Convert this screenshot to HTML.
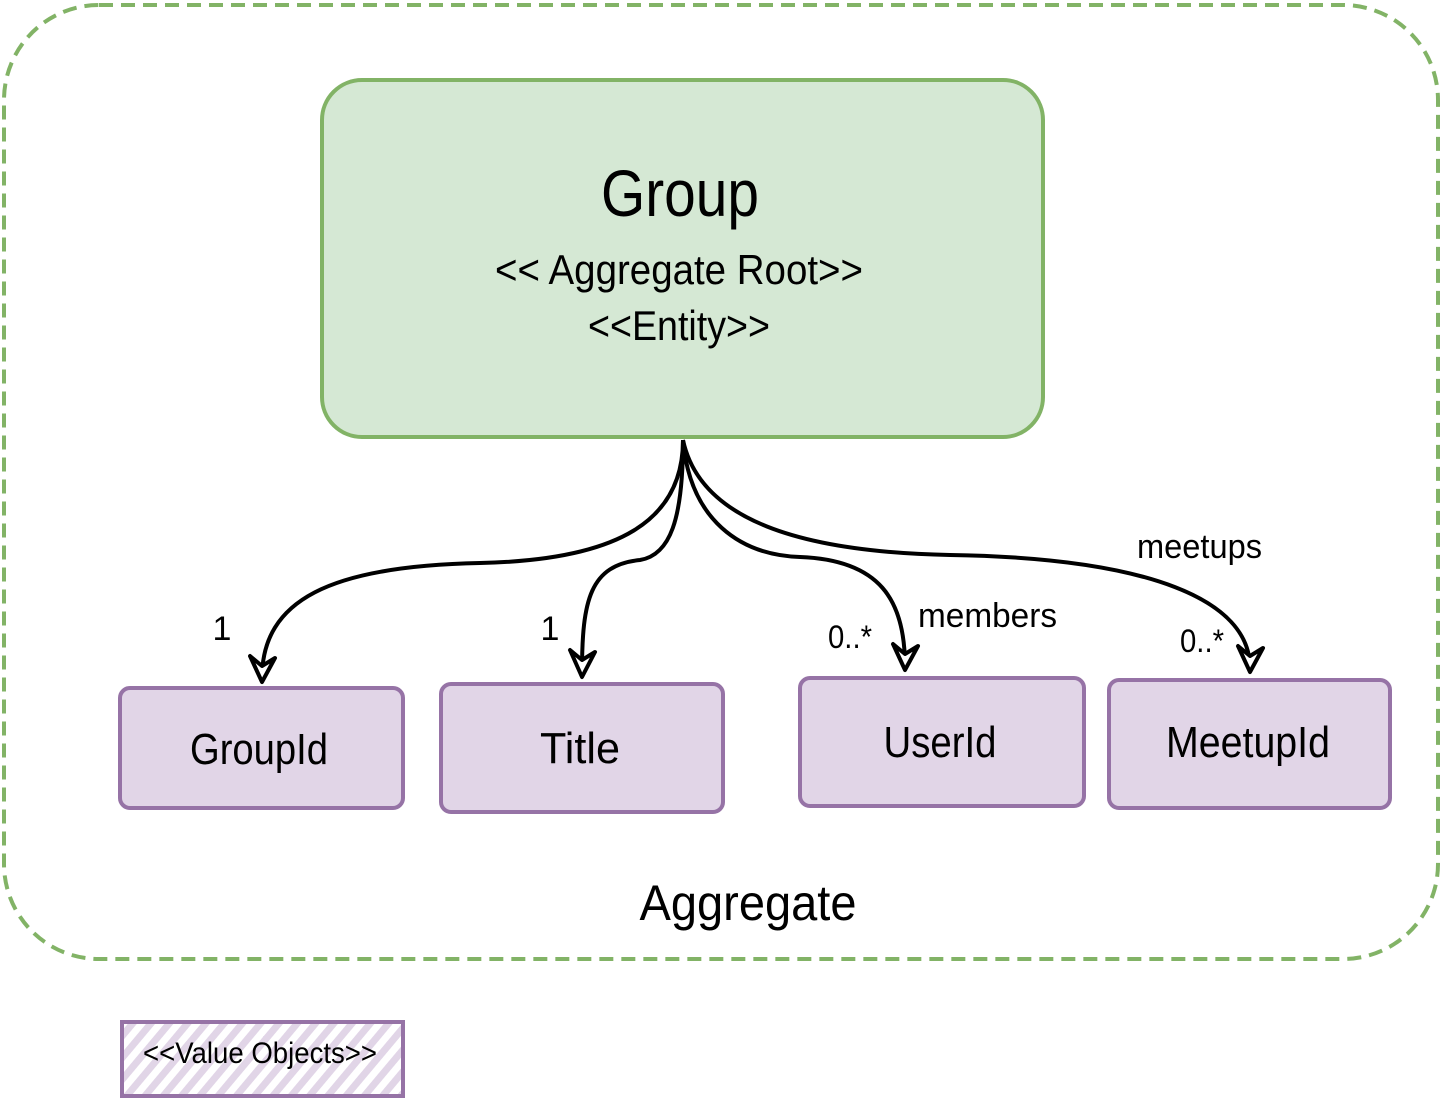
<!DOCTYPE html>
<html><head><meta charset="utf-8"><style>
html,body{margin:0;padding:0;background:#fff;}
svg{display:block;}
text{font-family:"Liberation Sans",sans-serif;fill:#000;}
</style></head><body>
<svg width="1444" height="1100" viewBox="0 0 1444 1100" xmlns="http://www.w3.org/2000/svg">
<defs>
<pattern id="hatch" width="14" height="14" patternUnits="userSpaceOnUse" patternTransform="rotate(40)">
<rect width="14" height="14" fill="#fff"/>
<rect width="7" height="14" fill="#e1d5e7"/>
</pattern>
<marker id="ah" markerWidth="16" markerHeight="16" refX="8" refY="14" orient="auto-start-reverse" markerUnits="userSpaceOnUse" viewBox="0 0 16 16">
</marker>
</defs>
<rect x="4" y="5" width="1434" height="954" rx="95" fill="none" stroke="#82b366" stroke-width="4" stroke-dasharray="14 8"/>
<rect x="322" y="80" width="721" height="357" rx="40" fill="#d5e8d4" stroke="#82b366" stroke-width="4"/>
<text x="680" y="216" font-size="66" text-anchor="middle" textLength="158" lengthAdjust="spacingAndGlyphs">Group</text>
<text x="679" y="284" font-size="42" text-anchor="middle" textLength="368" lengthAdjust="spacingAndGlyphs">&lt;&lt; Aggregate Root&gt;&gt;</text>
<text x="679" y="340" font-size="42" text-anchor="middle" textLength="182" lengthAdjust="spacingAndGlyphs">&lt;&lt;Entity&gt;&gt;</text>

<g fill="none" stroke="#000" stroke-width="4">
<path d="M683 440 C683 520 620 560 480 563 C330 566 262 600 262 678"/>
<path d="M683 440 C683 520 670 555 640 560 C590 565 582 600 582 672"/>
<path d="M683 440 C690 520 740 555 800 557 C880 560 905 600 905 666"/>
<path d="M683 440 C700 520 800 552 950 555 C1150 558 1250 600 1250 668"/>
</g>
<g fill="#fff" stroke="#000" stroke-width="4" stroke-linejoin="round">
<path d="M250 656 L262 682 L275 658 L262 666 Z"/>
<path d="M570 650 L582 677 L595 652 L582 660 Z"/>
<path d="M893 644 L905 670 L918 646 L905 654 Z"/>
<path d="M1238 646 L1250 672 L1263 648 L1250 656 Z"/>
</g>

<rect x="120" y="688" width="283" height="120" rx="10" fill="#e1d5e7" stroke="#9673a6" stroke-width="4"/>
<rect x="441" y="684" width="282" height="128" rx="10" fill="#e1d5e7" stroke="#9673a6" stroke-width="4"/>
<rect x="800" y="678" width="284" height="128" rx="10" fill="#e1d5e7" stroke="#9673a6" stroke-width="4"/>
<rect x="1109" y="680" width="281" height="128" rx="10" fill="#e1d5e7" stroke="#9673a6" stroke-width="4"/>
<text x="259" y="764" font-size="44" text-anchor="middle" textLength="138" lengthAdjust="spacingAndGlyphs">GroupId</text>
<text x="580" y="763" font-size="44" text-anchor="middle" textLength="80" lengthAdjust="spacingAndGlyphs">Title</text>
<text x="940" y="757" font-size="44" text-anchor="middle" textLength="113" lengthAdjust="spacingAndGlyphs">UserId</text>
<text x="1248" y="757" font-size="44" text-anchor="middle" textLength="164" lengthAdjust="spacingAndGlyphs">MeetupId</text>

<text x="222" y="640" font-size="34" text-anchor="middle">1</text>
<text x="550" y="640" font-size="34" text-anchor="middle">1</text>
<text x="850" y="648" font-size="32" text-anchor="middle" textLength="44" lengthAdjust="spacingAndGlyphs">0..*</text>
<text x="1202" y="652" font-size="32" text-anchor="middle" textLength="44" lengthAdjust="spacingAndGlyphs">0..*</text>
<text x="918" y="627" font-size="34" textLength="139" lengthAdjust="spacingAndGlyphs">members</text>
<text x="1137" y="558" font-size="34" textLength="125" lengthAdjust="spacingAndGlyphs">meetups</text>
<text x="748" y="920" font-size="50" text-anchor="middle" textLength="217" lengthAdjust="spacingAndGlyphs">Aggregate</text>

<rect x="122" y="1022" width="281" height="74" fill="url(#hatch)" stroke="#9673a6" stroke-width="4"/>
<text x="260" y="1063" font-size="30" text-anchor="middle" textLength="234" lengthAdjust="spacingAndGlyphs">&lt;&lt;Value Objects&gt;&gt;</text>
</svg>
</body></html>
